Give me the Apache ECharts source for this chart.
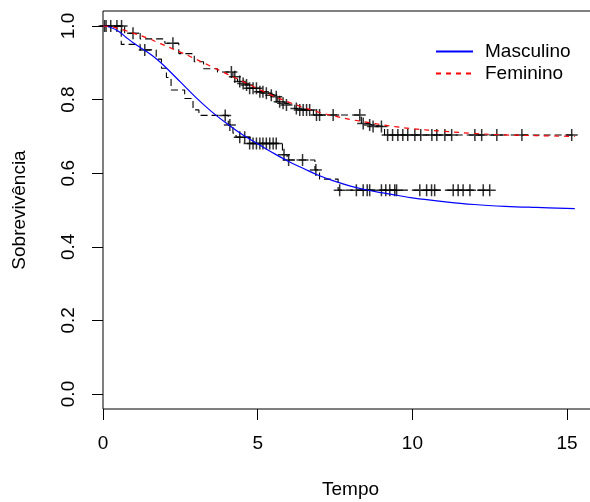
<!DOCTYPE html>
<html><head><meta charset="utf-8">
<script src="https://cdn.jsdelivr.net/npm/echarts@6/dist/echarts.min.js"></script>
<style>html,body{margin:0;padding:0;background:#fff}#c{width:590px;height:502px}</style>
</head><body><div id="c"></div>
<script>
// Fitted parametric curves
const tempoAjuste = [0,0.25,0.5,0.75,1,1.25,1.5,1.75,2,2.5,3,3.5,4,4.5,5,5.5,6,6.5,7,7.5,8,8.5,9,9.5,10,11,12,13,14,15.25];
const ajusteMasculino = [1,0.996,0.986,0.969,0.953,0.939,0.925,0.909,0.89,0.848,0.806,0.768,0.735,0.705,0.68,0.655,0.632,0.612,0.593,0.578,0.565,0.555,0.547,0.54,0.533,0.523,0.515,0.51,0.507,0.504];
const ajusteFeminino = [1,0.998,0.993,0.987,0.98,0.973,0.965,0.956,0.947,0.929,0.91,0.89,0.87,0.85,0.83,0.81,0.793,0.778,0.765,0.755,0.746,0.739,0.732,0.726,0.721,0.714,0.708,0.704,0.702,0.70];

// Kaplan-Meier steps
const kmTempoMasc = [0,0.59,1.2,1.72,1.89,2.05,2.2,2.64,2.91,3.1,4.05,4.2,4.3,4.75,5.8,5.95,6.85,7.0,7.6,12.5];
const kmSobrevMasc = [1,0.95,0.935,0.91,0.885,0.86,0.826,0.803,0.772,0.757,0.731,0.709,0.698,0.681,0.65,0.636,0.609,0.584,0.554,0.554];
const kmTempoFem = [0,0.7,1.2,2.0,2.45,2.95,3.25,3.7,4.2,4.35,4.6,4.7,5.0,5.25,5.4,5.55,5.65,5.8,5.9,6.2,6.3,6.8,8.35,8.6,8.7,9.1,15.2];
const kmSobrevFem = [1,0.98,0.965,0.953,0.925,0.903,0.884,0.875,0.862,0.849,0.84,0.831,0.821,0.817,0.812,0.808,0.794,0.79,0.785,0.776,0.772,0.758,0.735,0.731,0.727,0.704,0.704];

// Censored observations (+)
const censTempoMasc = [0.1,0.45,1.35,3.95,4.1,4.42,4.58,4.74,4.85,4.96,5.07,5.17,5.28,5.39,5.5,5.6,5.85,6.0,6.45,6.88,7.65,8.19,8.41,8.54,8.62,9.0,9.14,9.27,9.43,9.49,10.24,10.46,10.62,10.72,11.32,11.48,11.64,11.86,12.29,12.5];
const censSobrevMasc = [1,1,0.935,0.757,0.731,0.698,0.698,0.681,0.681,0.681,0.681,0.681,0.681,0.681,0.681,0.681,0.65,0.636,0.636,0.609,0.554,0.554,0.554,0.554,0.554,0.554,0.554,0.554,0.554,0.554,0.554,0.554,0.554,0.554,0.554,0.554,0.554,0.554,0.554,0.554];
const censTempoFem = [0.05,0.25,0.6,0.97,2.26,4.15,4.26,4.42,4.53,4.64,4.74,4.85,4.96,5.07,5.17,5.28,5.44,5.6,5.71,5.82,5.93,6.25,6.36,6.47,6.58,6.68,6.9,7.0,7.44,8.3,8.41,8.62,8.73,9.0,9.2,9.36,9.53,9.69,9.85,10.08,10.27,10.63,10.79,11.05,11.27,12.02,12.24,12.73,13.54,15.15];
const censSobrevFem = [1,1,1,0.98,0.953,0.875,0.862,0.849,0.844,0.84,0.831,0.831,0.831,0.821,0.821,0.817,0.812,0.808,0.794,0.79,0.785,0.776,0.772,0.772,0.772,0.772,0.758,0.758,0.758,0.758,0.735,0.731,0.727,0.727,0.704,0.704,0.704,0.704,0.704,0.704,0.704,0.704,0.704,0.704,0.704,0.704,0.704,0.704,0.704,0.704];

const xTicks = [0,5,10,15];
const yTickLabels = ['0.0','0.2','0.4','0.6','0.8','1.0'];

const zip = (a,b) => a.map((v,i)=>[v,b[i]]);
const FONT = 'Liberation Sans, Arial, Helvetica, sans-serif';
const FS = 19;
const plus = 'path://M0,-5L0,5M-5,0L5,0';

const chart = echarts.init(document.getElementById('c'), null, {renderer:'canvas'});
chart.setOption({
  animation:false,
  backgroundColor:'#fff',
  textStyle:{fontFamily:FONT},
  grid:[
    {left:103, top:26, bottom:108, right:-8, show:false, containLabel:false, outerBoundsMode:'none'},
    {left:103, top:11, bottom:93, right:-8, show:true, borderColor:'#000', borderWidth:1,
     backgroundColor:'transparent', containLabel:false, outerBoundsMode:'none'}
  ],
  xAxis:[
    {gridIndex:0, type:'value', min:0, max:16, show:false},
    {gridIndex:1, type:'value', min:0, max:16, interval:5,
     axisLine:{show:false},
     axisTick:{show:true, length:11, lineStyle:{color:'#000', width:1}},
     splitLine:{show:false},
     axisLabel:{color:'#000', fontSize:FS, fontFamily:FONT, margin:25, showMaxLabel:false,
       formatter:v => xTicks.includes(v) ? String(v) : ''},
     name:'Tempo', nameLocation:'middle', nameGap:71,
     nameTextStyle:{color:'#000', fontSize:FS, fontFamily:FONT}}
  ],
  yAxis:[
    {gridIndex:0, type:'value', min:0, max:1, interval:0.2,
     axisLine:{show:false},
     axisTick:{show:true, length:11, lineStyle:{color:'#000', width:1}},
     splitLine:{show:false},
     axisLabel:{color:'#000', fontSize:FS, fontFamily:FONT, rotate:90, margin:25,
       formatter:v => yTickLabels[Math.round(v*5)]},
     name:'Sobrevivência', nameLocation:'middle', nameRotate:90, nameGap:74,
     nameTextStyle:{color:'#000', fontSize:FS, fontFamily:FONT}},
    {gridIndex:1, type:'value', min:0, max:1, show:false}
  ],
  legend:{
    data:['Masculino','Feminino'],
    orient:'vertical', left:430, top:37,
    itemWidth:37, itemHeight:14, itemGap:3,
    itemStyle:{opacity:0},
    textStyle:{color:'#000', fontSize:FS, fontFamily:FONT, padding:[0,0,0,7]}
  },
  series:[
    {name:'KM Masculino', type:'line', step:'end', data:zip(kmTempoMasc,kmSobrevMasc),
     symbol:'none', clip:false, lineStyle:{color:'#000', width:1.1, type:[7,4]}, z:2},
    {name:'KM Feminino', type:'line', step:'end', data:zip(kmTempoFem,kmSobrevFem),
     symbol:'none', clip:false, lineStyle:{color:'#000', width:1.1, type:[7,4]}, z:2},
    {name:'Censura Masculino', type:'scatter', data:zip(censTempoMasc,censSobrevMasc),
     symbol:plus, symbolSize:12, clip:false,
     itemStyle:{color:'transparent', borderColor:'#000', borderWidth:1.5}, z:3},
    {name:'Censura Feminino', type:'scatter', data:zip(censTempoFem,censSobrevFem),
     symbol:plus, symbolSize:12, clip:false,
     itemStyle:{color:'transparent', borderColor:'#000', borderWidth:1.5}, z:3},
    {name:'Masculino', type:'line', data:zip(tempoAjuste,ajusteMasculino),
     symbol:'none', smooth:0.4, clip:false,
     lineStyle:{color:'#0000ff', width:1.2}, itemStyle:{color:'#0000ff'}, z:4},
    {name:'Feminino', type:'line', data:zip(tempoAjuste,ajusteFeminino),
     symbol:'none', smooth:0.4, clip:false,
     lineStyle:{color:'#ff0000', width:1.2, type:[5,5]}, itemStyle:{color:'#ff0000'}, z:4}
  ]
});
</script></body></html>
